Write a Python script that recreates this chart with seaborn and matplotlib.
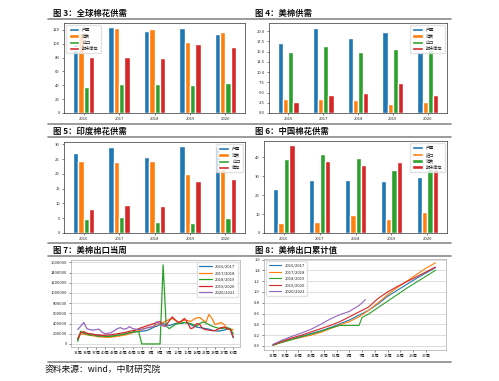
import numpy as np
import pandas as pd
import matplotlib.pyplot as plt
import seaborn as sns
from matplotlib.lines import Line2D

sns.set_theme(style="white")
plt.rcParams['font.family'] = ['Noto Sans CJK SC', 'DejaVu Sans']

years = ['2016', '2017', '2018', '2019', '2020']
bar_colors = ['#1f77b4', '#ff7f0e', '#2ca02c', '#d62728']

# 图3 全球棉花供需
world_items = ['产量', '消费', '出口', '期末库存']
world_prod = [106.0, 123.8, 119.0, 122.4, 114.7]
world_cons = [115.0, 122.4, 121.0, 103.0, 117.6]
world_exp = [37.4, 42.0, 42.0, 41.0, 44.0]
world_stock = [80.6, 80.6, 80.0, 99.4, 96.0]

# 图4 美棉供需
us_items = ['产量', '消费', '出口', '期末库存']
us_prod = [17.2, 20.9, 18.4, 19.9, 15.0]
us_cons = [3.4, 3.4, 3.1, 2.3, 2.6]
us_exp = [15.0, 16.3, 14.9, 15.6, 15.3]
us_stock = [2.8, 4.4, 4.9, 7.4, 4.5]

# 图5 印度棉花供需
india_items = ['产量', '消费', '出口', '库存']
india_prod = [27.1, 29.0, 25.8, 29.4, 29.0]
india_cons = [24.4, 24.2, 24.4, 20.0, 22.0]
india_exp = [4.7, 5.3, 3.8, 3.3, 5.2]
india_stock = [8.0, 9.4, 9.1, 17.6, 18.2]

# 图6 中国棉花供需
china_items = ['产量', '进口', '消费', '期末库存']
china_prod = [23.1, 27.7, 28.0, 27.5, 29.4]
china_imp = [5.3, 6.0, 9.7, 7.2, 11.3]
china_cons = [38.8, 41.4, 39.8, 33.1, 34.0]
china_stock = [46.5, 38.2, 36.1, 37.2, 33.8]

# 图7 美棉出口当周 (千包)
seasons = ['2016/2017', '2017/2018', '2018/2019', '2019/2020', '2020/2021']
week_nums = list(range(31, 53)) + list(range(1, 31))
wk_1617 = [85, 230, 215, 200, 195, 185, 175, 170, 160, 150,
           150, 155, 160, 170, 180, 190, 200, 220, 230, 240,
           245, 250, 255, 270, 300, 330, 350, 380, 400, 380,
           360, 380, 400, 410, 400, 420, 410, 380, 350, 330,
           320, 310, 300, 290, 270, 260, 250, 260, 270, 290,
           300, 120]
wk_1718 = [100, 200, 190, 180, 170, 160, 150, 140, 135, 130,
           130, 135, 140, 150, 160, 170, 180, 200, 220, 240,
           260, 280, 300, 320, 330, 350, 380, 400, 420, 450,
           480, 500, 460, 420, 440, 470, 460, 440, 480, 510,
           520, 470, 420, 580, 500, 380, 400, 420, 380, 300,
           290, 280]
wk_1819 = [50, 250, 210, 190, 170, 180, 160, 150, 155, 150,
           145, 150, 160, 170, 180, 190, 200, 220, 230, 240,
           240, 0, 0, 0, 0, 0, 0, 0, 1550, 350,
           300, 340, 380, 400, 410, 420, 410, 400, 380, 350,
           400, 430, 410, 380, 350, 330, 310, 300, 310, 320,
           300, 200]
wk_1920 = [100, 220, 240, 210, 200, 190, 180, 175, 170, 170,
           175, 180, 190, 200, 210, 220, 230, 250, 260, 270,
           300, 320, 340, 360, 380, 400, 420, 440, 350, 370,
           450, 530, 470, 420, 450, 500, 420, 300, 320, 400,
           380, 300, 280, 270, 260, 260, 290, 320, 330, 300,
           280, 130]
wk_2021 = [280, 350, 420, 300, 280, 270, 280, 290, 230, 200,
           210, 220, 260, 300, 320, 290, 300, 340, 300, 290,
           280, 290, 300, 320, 330, 350, 440, 380, 360, 340]

# 图8 美棉出口累计值
cum_idx = [0, 3, 6, 9, 12, 15, 18, 21, 24, 27, 28, 29, 30, 33, 36, 39, 42, 45, 48, 51]
cum_1617 = [0.02, 0.08, 0.13, 0.18, 0.23, 0.28, 0.34, 0.41, 0.48, 0.57, 0.60, 0.63, 0.66, 0.78, 0.92, 1.03, 1.14, 1.25, 1.35, 1.45]
cum_1718 = [0.02, 0.07, 0.12, 0.16, 0.20, 0.25, 0.32, 0.39, 0.45, 0.54, 0.58, 0.62, 0.66, 0.80, 0.95, 1.08, 1.20, 1.32, 1.44, 1.54]
cum_1819 = [0.01, 0.07, 0.12, 0.17, 0.22, 0.27, 0.33, 0.38, 0.38, 0.38, 0.53, 0.56, 0.59, 0.71, 0.83, 0.95, 1.07, 1.18, 1.29, 1.40]
cum_1920 = [0.02, 0.09, 0.15, 0.20, 0.26, 0.32, 0.38, 0.45, 0.54, 0.63, 0.66, 0.69, 0.72, 0.88, 1.00, 1.10, 1.19, 1.28, 1.37, 1.46]
cum_2021 = [0.03, 0.11, 0.18, 0.24, 0.31, 0.40, 0.50, 0.58, 0.64, 0.75, 0.80, 0.86]

W, H = 499, 381
fig = plt.figure(figsize=(W / 100, H / 100), dpi=100)


def rect(l, t, r, b):
    return [l / W, 1 - b / H, (r - l) / W, (b - t) / H]


def bar_panel(box, items, values, ylim, yticks, loc):
    ax = fig.add_axes(rect(*box))
    df = pd.DataFrame({
        'year': years * len(items),
        'item': np.repeat(items, len(years)),
        'value': np.concatenate(values),
    })
    sns.barplot(data=df, x='year', y='value', hue='item', palette=bar_colors,
                width=0.6, saturation=1, ax=ax)
    ax.set_xlim(-0.55, 4.55)
    ax.set_ylim(*ylim)
    ax.set_yticks(yticks)
    ax.set_xlabel('')
    ax.set_ylabel('')
    ax.tick_params(labelsize=3, length=1.5, width=0.4, pad=1.5, left=True, bottom=True)
    for s in ax.spines.values():
        s.set_linewidth(0.5)
        s.set_color('#333333')
    ax.legend(loc=loc, fontsize=3, frameon=True, edgecolor='#dddddd',
              handlelength=2.5, handleheight=0.8, borderpad=0.6, labelspacing=0.5)
    return ax


bar_panel((64, 23, 245, 113), world_items,
          [world_prod, world_cons, world_exp, world_stock],
          (0, 130), range(0, 121, 20), 'upper left')
ax4 = bar_panel((269, 23, 447, 113), us_items,
                [us_prod, us_cons, us_exp, us_stock],
                (0, 22), np.arange(0, 20.1, 2.5), 'upper right')
ax4.set_yticklabels([f'{v:.1f}' for v in np.arange(0, 20.1, 2.5)])
bar_panel((64, 142, 245, 233), india_items,
          [india_prod, india_cons, india_exp, india_stock],
          (0, 30.8), range(0, 31, 5), 'upper right')
bar_panel((264, 141, 447, 233), china_items,
          [china_prod, china_imp, china_cons, china_stock],
          (0, 48.5), range(0, 41, 10), 'upper right')

line_colors = ['#1f77b4', '#ff7f0e', '#2ca02c', '#d62728', '#9467bd']
week_labels = [f'{w}周' for w in week_nums]

# 图7
ax7 = fig.add_axes(rect(71, 260, 240, 347))
rows = []
for name, vals in zip(seasons, [wk_1617, wk_1718, wk_1819, wk_1920, wk_2021]):
    for i, v in enumerate(vals):
        rows.append((i, v * 1000, name))
df7 = pd.DataFrame(rows, columns=['idx', 'value', 'season'])
sns.lineplot(data=df7, x='idx', y='value', hue='season', palette=line_colors,
             linewidth=0.9, ax=ax7)
ax7.set_xlim(-2.2, 53.2)
ax7.set_ylim(-60000, 1645000)
y7 = list(range(0, 1600001, 200000))
ax7.set_yticks(y7)
ax7.set_yticklabels([str(v) for v in y7])
ax7.set_xticks(range(0, 52, 3))
ax7.set_xticklabels([week_labels[i] for i in range(0, 52, 3)])

# 图8
ax8 = fig.add_axes(rect(264, 259, 446, 350))
rows = []
for name, vals in zip(seasons, [cum_1617, cum_1718, cum_1819, cum_1920, cum_2021]):
    for i, v in zip(cum_idx, vals):
        rows.append((i, v, name))
df8 = pd.DataFrame(rows, columns=['idx', 'value', 'season'])
sns.lineplot(data=df8, x='idx', y='value', hue='season', palette=line_colors,
             linewidth=0.8, ax=ax8)
ax8.set_xlim(-2.8, 54.3)
ax8.set_ylim(-0.075, 1.61)
y8 = np.arange(0, 1.61, 0.2)
ax8.set_yticks(y8)
ax8.set_yticklabels([f'{v:.1f}' for v in y8])
ax8.set_xticks(range(0, 52, 4))
ax8.set_xticklabels([week_labels[i] for i in range(0, 52, 4)])

for ax, loc in [(ax7, 'upper right'), (ax8, 'upper left')]:
    ax.set_xlabel('')
    ax.set_ylabel('')
    ax.grid(axis='y', color='#d0d0d0', linewidth=0.5)
    ax.tick_params(labelsize=3, length=1.5, width=0.4, pad=1.5, left=True, bottom=True)
    for s in ax.spines.values():
        s.set_linewidth(0.5)
        s.set_color('#aaaaaa')
    ax.legend(loc=loc, fontsize=3, frameon=True, edgecolor='#dddddd',
              handlelength=3, borderpad=0.6, labelspacing=0.6)

# 标题与分隔线
titles = [(53, 13, '图 3：全球棉花供需'), (255, 13, '图 4：美棉供需'),
          (53, 131, '图 5：印度棉花供需'), (255, 131, '图 6：中国棉花供需'),
          (53, 250, '图 7：美棉出口当周'), (255, 250, '图 8：美棉出口累计值')]
for x, y, t in titles:
    fig.text(x / W, 1 - y / H, t, fontsize=6, fontweight='bold', va='center', color='#111111')
for y in [19, 124, 137, 243, 256, 362]:
    fig.add_artist(Line2D([48 / W, 451 / W], [1 - y / H, 1 - y / H],
                          transform=fig.transFigure, color='#8a8a8a', lw=1.2))
fig.text(45 / W, 1 - 369 / H, '资料来源：wind，中财研究院', fontsize=6.3, va='center', color='#111111')

fig.savefig('out.png', dpi=100)
